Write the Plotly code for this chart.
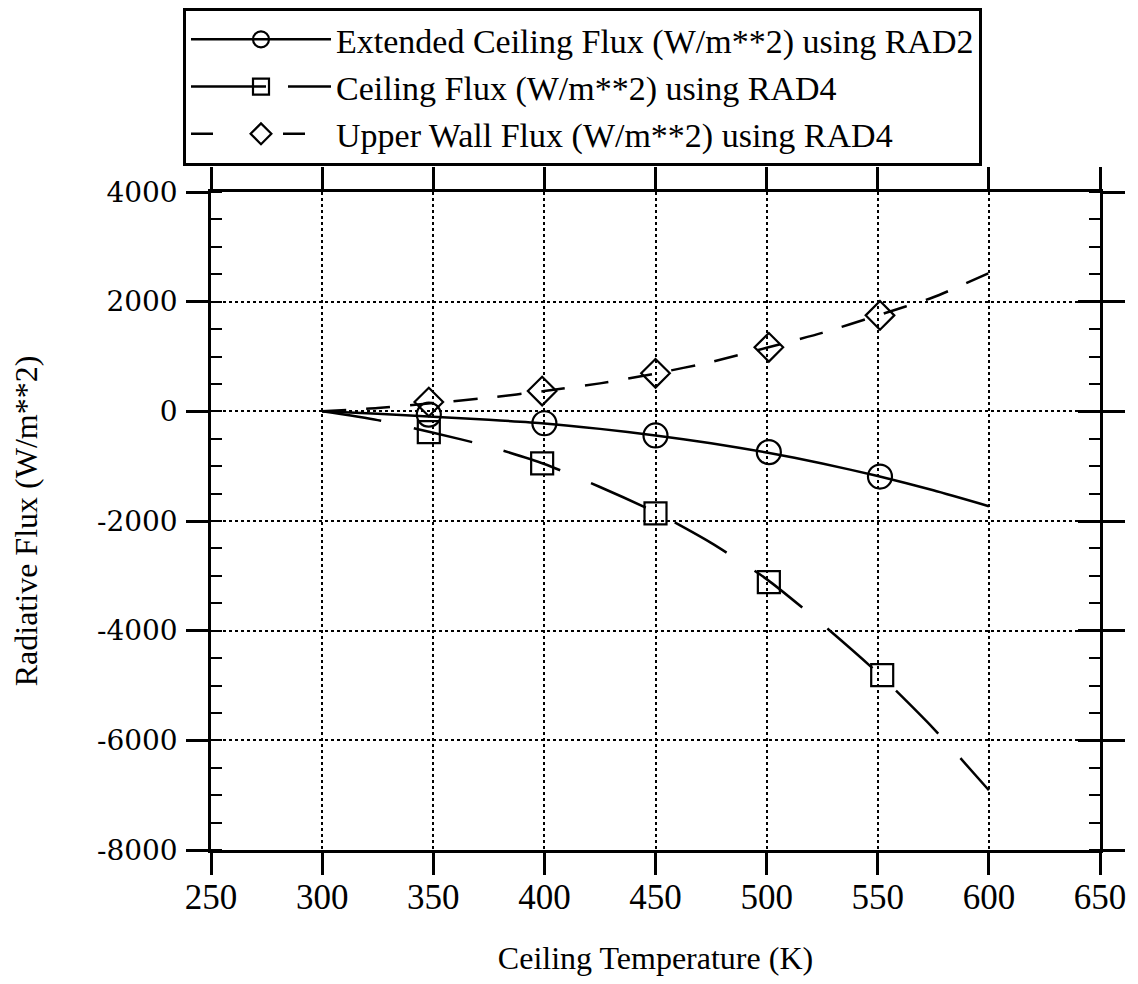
import plotly.graph_objects as go

# ---- data ----
temp_line = [300, 325, 350, 375, 400, 425, 450, 475, 500, 525, 550, 575, 600]
ext_ceiling_rad2_line = [0, -45, -100, -155, -220, -320, -440, -580, -750, -950, -1180, -1440, -1730]
ceiling_rad4_line = [0, -160, -390, -640, -960, -1380, -1840, -2400, -3060, -3880, -4770, -5780, -6910]
upper_wall_rad4_line = [0, 60, 150, 250, 370, 510, 690, 900, 1160, 1430, 1750, 2080, 2520]

temp_circles = [348, 400, 450, 501, 551]
ext_ceiling_rad2_pts = [-60, -217, -440, -744, -1190]
temp_squares = [348, 399, 450, 501, 552]
ceiling_rad4_pts = [-380, -950, -1860, -3115, -4810]
temp_diamonds = [348, 399, 450, 501, 551]
upper_wall_rad4_pts = [170, 370, 693, 1168, 1750]

names = [
    "Extended Ceiling Flux (W/m**2) using RAD2",
    "Ceiling Flux (W/m**2) using RAD4",
    "Upper Wall Flux (W/m**2) using RAD4",
]
x_ticks = [250, 300, 350, 400, 450, 500, 550, 600, 650]
y_ticks = [-8000, -6000, -4000, -2000, 0, 2000, 4000]

# ---- styling ----
BLACK = "black"
LW = 2.5
dashes = ["solid", "60px,33px", "24px,20px"]
legend_dashes = ["solid", "75px,22px", "22px,70px"]
symbols = ["circle-open", "square-open", "diamond-open"]
msizes = [24, 22, 22]

fig = go.Figure()

lines_y = [ext_ceiling_rad2_line, ceiling_rad4_line, upper_wall_rad4_line]
pts_x = [temp_circles, temp_squares, temp_diamonds]
pts_y = [ext_ceiling_rad2_pts, ceiling_rad4_pts, upper_wall_rad4_pts]

for i in range(3):
    fig.add_trace(go.Scatter(
        x=temp_line, y=lines_y[i], mode="lines",
        line=dict(color=BLACK, width=LW, dash=dashes[i], shape="spline", smoothing=0.6),
        showlegend=False, hoverinfo="skip"))
    fig.add_trace(go.Scatter(
        x=pts_x[i], y=pts_y[i], mode="markers",
        marker=dict(symbol=symbols[i], size=msizes[i], color=BLACK,
                    line=dict(color=BLACK, width=2.2)),
        showlegend=False))

# legend entries
for i in range(3):
    fig.add_trace(go.Scatter(
        x=[None], y=[None], mode="lines+markers", name=names[i],
        line=dict(color=BLACK, width=LW, dash=legend_dashes[i]),
        marker=dict(symbol=symbols[i], size=msizes[i], color=BLACK,
                    line=dict(color=BLACK, width=2.2))))

# overlay axis to give crossing major ticks on the right side
fig.add_trace(go.Scatter(x=[None], y=[None], yaxis="y2", showlegend=False, hoverinfo="skip"))

fig.update_layout(
    width=1122, height=968,
    margin=dict(l=203, r=30, t=184, b=126, autoexpand=False),
    paper_bgcolor="white", plot_bgcolor="white",
    font=dict(family="Liberation Serif", color=BLACK),
    showlegend=True,
    legend=dict(
        x=-0.0315, y=1.28, xanchor="left", yanchor="top",
        bgcolor="white", bordercolor=BLACK, borderwidth=3,
        font=dict(family="Liberation Serif", size=34, color=BLACK),
        itemwidth=140, tracegroupgap=0,
    ),
    xaxis=dict(
        range=[250, 650], tickvals=x_ticks, ticktext=[str(v) for v in x_ticks],
        showline=True, linecolor=BLACK, linewidth=2.5, mirror="ticks",
        ticks="outside", ticklen=22, tickwidth=2.5, tickcolor=BLACK,
        showgrid=True, gridcolor=BLACK, gridwidth=2, griddash="dot",
        zeroline=False, automargin=False, ticklabelstandoff=-8,
        tickfont=dict(family="Liberation Serif", size=35, color=BLACK),
        title=dict(text="Ceiling Temperature (K)", standoff=36,
                   font=dict(family="Liberation Serif", size=32, color=BLACK)),
    ),
    yaxis=dict(
        range=[-8000, 4000], tickvals=y_ticks, ticktext=[str(v) for v in y_ticks],
        showline=True, linecolor=BLACK, linewidth=2.5, mirror="ticks",
        ticks="outside", ticklen=22, tickwidth=2.5, tickcolor=BLACK,
        showgrid=True, gridcolor=BLACK, gridwidth=2, griddash="dot",
        zeroline=False, automargin=False, ticklabelstandoff=3,
        minor=dict(dtick=500, ticks="inside", ticklen=11, tickwidth=2, tickcolor=BLACK,
                   showgrid=False),
        tickfont=dict(family="DejaVu Serif", size=28, color=BLACK),
        title=dict(text="Radiative Flux (W/m**2)", standoff=50,
                   font=dict(family="Liberation Serif", size=32, color=BLACK)),
    ),
    yaxis2=dict(
        overlaying="y", side="right", range=[-8000, 4000], tickvals=y_ticks,
        ticks="inside", ticklen=22, tickwidth=2.5, tickcolor=BLACK,
        showticklabels=False, showgrid=False, showline=False, zeroline=False,
        automargin=False,
    ),
)

fig.write_html("out.html")
